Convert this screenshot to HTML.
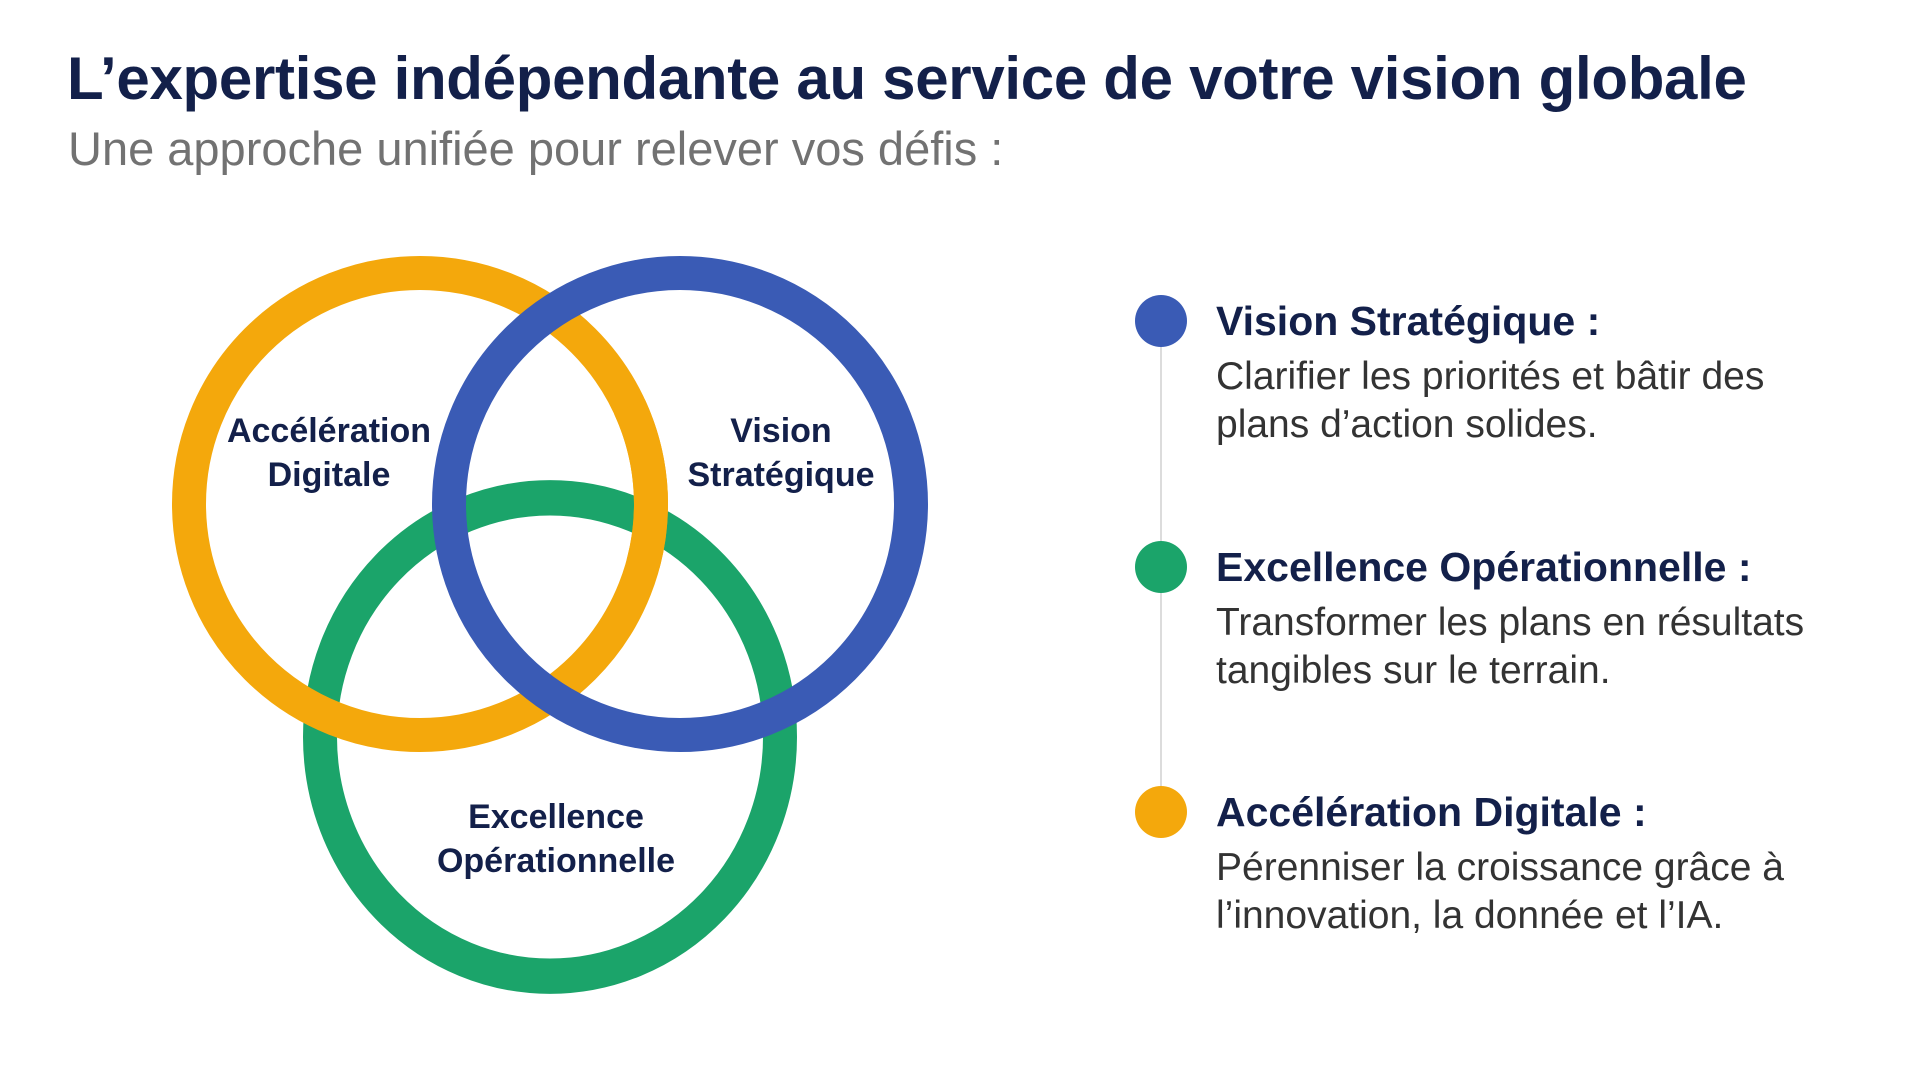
<!DOCTYPE html>
<html><head><meta charset="utf-8"><style>
html,body{margin:0;padding:0;background:#fff;width:1920px;height:1071px;overflow:hidden;font-family:"Liberation Sans",sans-serif}
.t{position:absolute;white-space:nowrap}
</style></head><body>
<div class="t" style="left:67px;top:44px;font-size:60px;font-weight:bold;color:#13204a;letter-spacing:-0.3px">L’expertise indépendante au service de votre vision globale</div>
<div class="t" style="left:68px;top:121px;font-size:47px;color:#727272">Une approche unifiée pour relever vos défis :</div>
<svg width="1920" height="1071" style="position:absolute;left:0;top:0">
<circle cx="550" cy="737" r="230" fill="none" stroke="#1ba46a" stroke-width="34" transform="translate(550 737) scale(1 1.04) translate(-550 -737)"/>
<circle cx="420" cy="504" r="231" fill="none" stroke="#f4a80c" stroke-width="34"/>
<circle cx="680" cy="504" r="231" fill="none" stroke="#3a5bb5" stroke-width="34"/>
<path d="M 629.4 406.4 A 231 231 0 0 1 643.1 563.8" fill="none" stroke="#f4a80c" stroke-width="34"/>
<g font-family="Liberation Sans,sans-serif" font-weight="bold" font-size="34" fill="#13204a" text-anchor="middle">
<text x="329" y="442">Accélération</text><text x="329" y="486">Digitale</text>
<text x="781" y="442">Vision</text><text x="781" y="486">Stratégique</text>
<text x="556" y="828">Excellence</text><text x="556" y="872">Opérationnelle</text>
</g>
<line x1="1161" y1="321" x2="1161" y2="812" stroke="#dcdcdc" stroke-width="2"/>
<circle cx="1161" cy="321" r="26" fill="#3a5bb5"/>
<circle cx="1161" cy="567" r="26" fill="#1ba46a"/>
<circle cx="1161" cy="812" r="26" fill="#f4a80c"/>
<g font-family="Liberation Sans,sans-serif">
<g font-weight="bold" font-size="41" fill="#13204a">
<text x="1216" y="335">Vision Stratégique :</text>
<text x="1216" y="581">Excellence Opérationnelle :</text>
<text x="1216" y="826">Accélération Digitale :</text>
</g>
<g font-size="39" fill="#333">
<text x="1216" y="389">Clarifier les priorités et bâtir des</text>
<text x="1216" y="437">plans d’action solides.</text>
<text x="1216" y="635">Transformer les plans en résultats</text>
<text x="1216" y="683">tangibles sur le terrain.</text>
<text x="1216" y="880">Pérenniser la croissance grâce à</text>
<text x="1216" y="928">l’innovation, la donnée et l’IA.</text>
</g></g>
</svg>
</body></html>
